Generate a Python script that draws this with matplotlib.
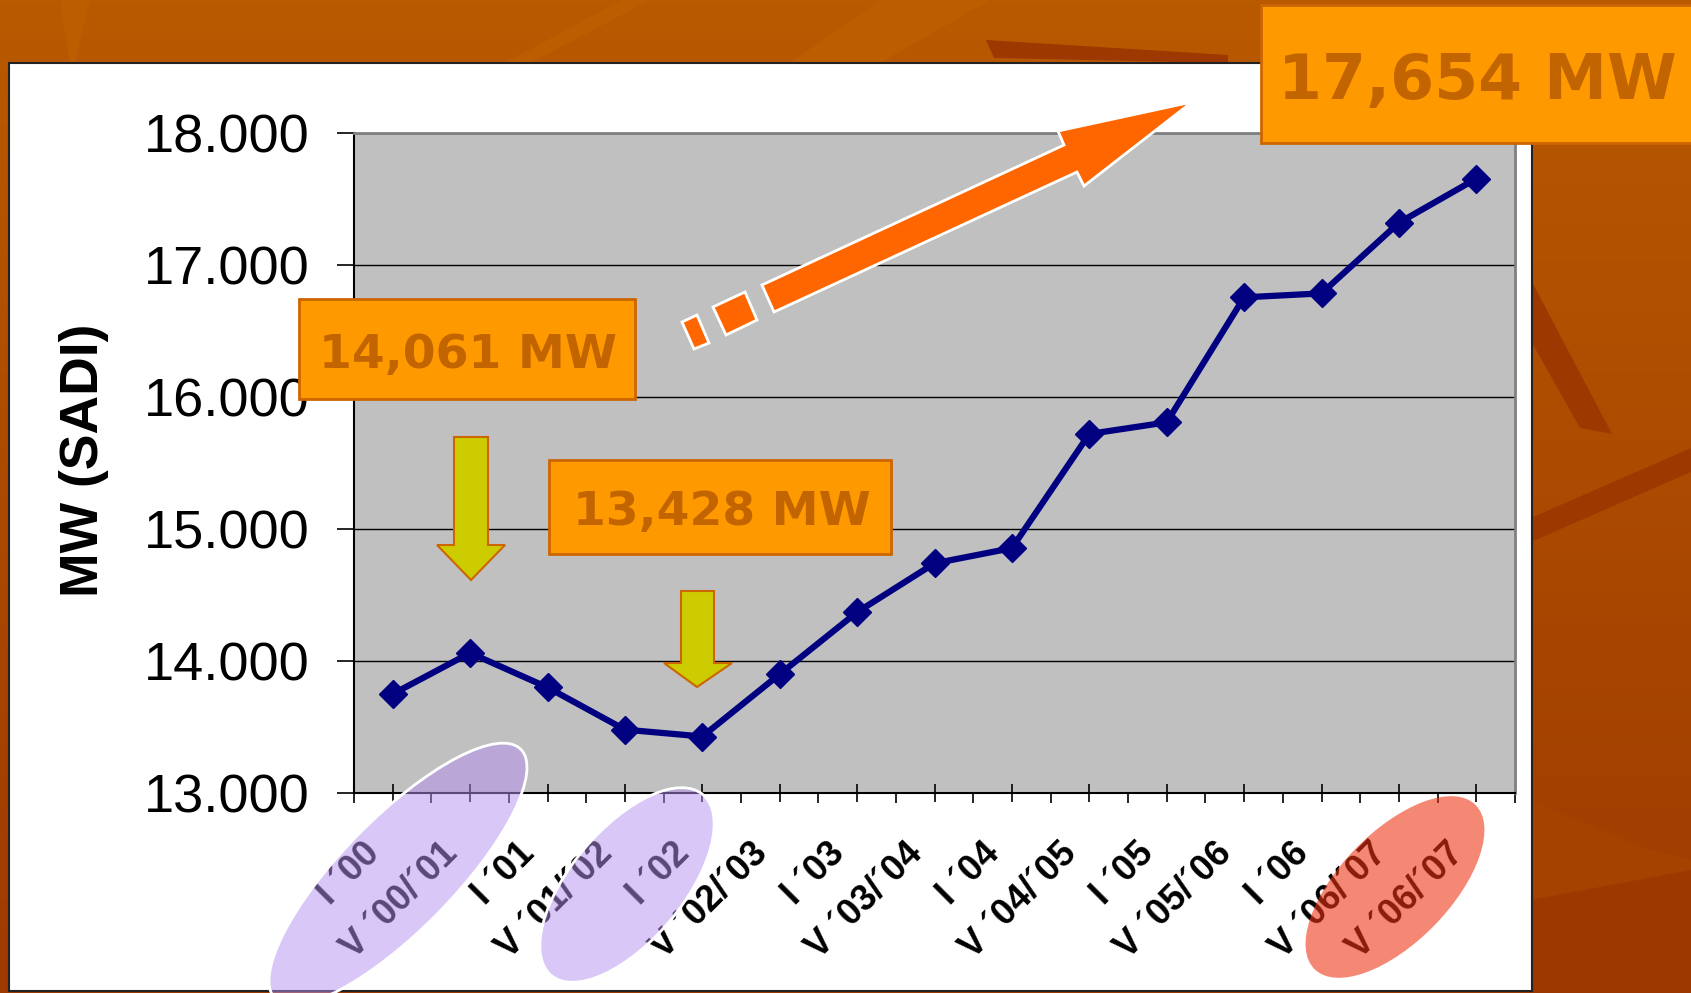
import matplotlib
matplotlib.use("Agg")
import matplotlib.pyplot as plt
import numpy as np
from matplotlib.patches import Polygon, Ellipse, Rectangle
from matplotlib.transforms import ScaledTranslation

# --- data ---
periods = ["I ´00", "V ´00/´01", "I ´01", "V ´01/´02", "I ´02", "V ´02/´03",
           "I ´03", "V ´03/´04", "I ´04", "V ´04/´05", "I ´05", "V ´05/´06",
           "I ´06", "V ´06/´07", "V ´06/´07"]
peak_mw = [13750, 14061, 13800, 13480, 13428, 13900, 14370, 14740, 14855,
           15720, 15808, 16755, 16785, 17320, 17654]
y_ticks = [13000, 14000, 15000, 16000, 17000, 18000]
callouts = ["14,061 MW", "13,428 MW", "17,654 MW"]

W, H = 1691, 993
fig = plt.figure(figsize=(W / 100, H / 100), dpi=100)

# background layer (pixel coords, origin top-left)
bg = fig.add_axes([0, 0, 1, 1], zorder=0)
top = np.array([185, 90, 0]) / 255
bot = np.array([158, 58, 0]) / 255
t = np.linspace(0, 1, 256)[:, None, None]
bg.imshow(top * (1 - t) + bot * t, extent=[0, W, H, 0], aspect="auto")
bg.set_xlim(0, W)
bg.set_ylim(H, 0)
bg.axis("off")

dark = "#9C3800"
light = "#BC5E00"
streaks = [
    ([(1531, 280), (1531, 341), (1580, 428), (1612, 434)], dark),
    ([(1531, 518), (1691, 448), (1691, 472), (1531, 542)], dark),
    ([(1531, 800), (1650, 850), (1691, 860), (1691, 993), (1531, 993)], "#A54200"),
    ([(1531, 900), (1691, 870), (1691, 993), (1531, 993)], dark),
    ([(986, 40), (1228, 55), (1228, 63), (994, 58)], dark),
    ([(622, 0), (650, 0), (530, 63), (505, 63)], light),
    ([(880, 0), (990, 0), (880, 63), (790, 63)], light),
    ([(60, 0), (90, 0), (75, 63), (70, 63)], light),
]
for pts, c in streaks:
    bg.add_patch(Polygon(pts, closed=True, fc=c, ec="none"))

# white slide panel
bg.add_patch(Rectangle((9, 63), 1523, 928, fc="white", ec="#222222", lw=1.5))

# --- main chart ---
ax = fig.add_axes([354 / W, 1 - 793 / H, (1515 - 354) / W, (793 - 133) / H], zorder=2)
ax.set_facecolor("#C0C0C0")
x = np.arange(len(periods))
ax.plot(x, peak_mw, color="#000080", lw=4.5, marker="D", ms=14.5, zorder=3)
ax.set_xlim(-0.5, len(periods) - 0.5)
ax.set_ylim(13000, 18000)

ax.set_yticks(y_ticks)
ax.set_yticklabels([f"{v:,}".replace(",", ".") for v in y_ticks],
                   fontsize=39, family="Liberation Sans")
ax.yaxis.grid(True, color="black", lw=1)
ax.set_axisbelow(True)
ax.tick_params(axis="y", direction="out", length=12, width=1.2, pad=20)

ax.set_xticks(x)
ax.set_xticklabels(periods, rotation=45, ha="right", va="center",
                   rotation_mode="anchor", fontsize=26, fontweight="bold",
                   family="Liberation Sans")
ax.set_xticks(np.arange(-0.5, len(periods)), minor=True)
ax.tick_params(axis="x", which="major", direction="inout", length=13, width=1.2, pad=33)
ax.tick_params(axis="x", which="minor", direction="out", length=7, width=1.2)
shift = ScaledTranslation(-18 / 100, 0, fig.dpi_scale_trans)
for lab in ax.get_xticklabels():
    lab.set_transform(lab.get_transform() + shift)

for side in ["left", "bottom"]:
    ax.spines[side].set_color("black")
    ax.spines[side].set_linewidth(1.5)
for side in ["top", "right"]:
    ax.spines[side].set_color("#808080")
    ax.spines[side].set_linewidth(2)

fig.text(84 / W, 1 - 460 / H, "MW (SADI)", rotation=90, fontsize=38.5,
         fontweight="bold", ha="center", va="center", family="Liberation Sans")

# --- overlay: ellipses, arrows, callouts ---
ov = fig.add_axes([0, 0, 1, 1], zorder=5)
ov.set_xlim(0, W)
ov.set_ylim(H, 0)
ov.axis("off")

lav = "#B590F0"
ov.add_patch(Ellipse((398, 874), 350, 112, angle=-45.5, fc=lav, alpha=0.5, ec="none"))
ov.add_patch(Ellipse((398, 874), 350, 112, angle=-45.5, fc="none", ec="white", lw=2))
ov.add_patch(Ellipse((627, 885), 236, 112, angle=-50, fc=lav, alpha=0.5, ec="none"))
ov.add_patch(Ellipse((627, 885), 236, 112, angle=-50, fc="none", ec="white", lw=2))
ov.add_patch(Ellipse((1395, 887), 230, 110, angle=-45.7, fc="#EE3311", alpha=0.58, ec="none"))

# yellow down arrows
def down_arrow(x0, x1, top_y, head_y, hx0, hx1, tip):
    pts = [(x0, top_y), (x1, top_y), (x1, head_y), (hx1, head_y), tip,
           (hx0, head_y), (x0, head_y)]
    ov.add_patch(Polygon(pts, closed=True, fc="#CCCC00", ec="#CC6600", lw=1.5))

down_arrow(454, 488, 437, 545, 437, 505, (471, 580))
down_arrow(681, 714, 591, 663, 664, 732, (697, 687))

# big orange trend arrow
arrow_pts = [(762, 285), (1064, 145), (1058, 131), (1192, 102), (1084, 186),
             (1077, 172), (774, 312)]
ov.add_patch(Polygon(arrow_pts, closed=True, fc="#FF6600", ec="white", lw=2))
ov.add_patch(Polygon([(713, 307), (745, 292), (757, 320), (726, 335)],
                     closed=True, fc="#FF6600", ec="white", lw=2))
ov.add_patch(Polygon([(682, 322), (697, 315), (709, 343), (694, 349)],
                     closed=True, fc="#FF6600", ec="white", lw=2))

# callout boxes
boxes = [((299, 299), 336, 100, (468, 368), 34),
         ((549, 460), 342, 94, (722, 525), 34),
         ((1261, 5), 440, 138, (1477, 99), 45.5)]
for (xy, w, h, txy, fs), label in zip(boxes, callouts):
    ov.add_patch(Rectangle(xy, w, h, fc="#FF9900", ec="#CC6600", lw=2))
    ov.text(txy[0], txy[1], label, ha="center", va="baseline", fontsize=fs,
            fontweight="bold", color="#C26400", family="DejaVu Sans")

fig.savefig("out.png", dpi=100)
